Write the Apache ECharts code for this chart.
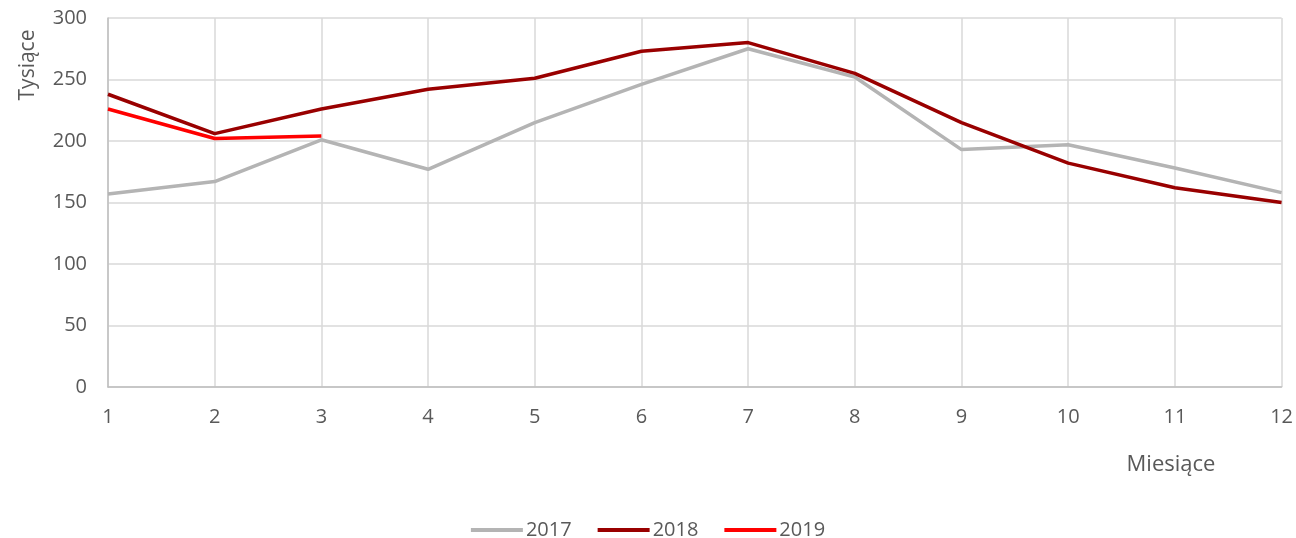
<!DOCTYPE html>
<html>
<head>
<meta charset="utf-8">
<script src="https://cdn.jsdelivr.net/npm/echarts@6/dist/echarts.min.js"></script>
<style>
html, body { margin: 0; padding: 0; background: #fff; }
#chart { width: 1296px; height: 538px; }
</style>
</head>
<body>
<div id="chart"></div>
<script>
// dane (tysiące)
var months = ['1', '2', '3', '4', '5', '6', '7', '8', '9', '10', '11', '12']
var y2017 = [157, 167, 201, 177, 215, 246, 275, 252, 193, 197, 178, 158]
var y2018 = [238, 206, 226, 242, 251, 273, 280, 255, 215, 182, 162, 150]
var y2019 = [226, 202, 204]

var font = '"Open Sans", "Noto Sans", sans-serif'
var txtColor = '#595959'

var chart = echarts.init(document.getElementById('chart'))
chart.setOption({
  animation: false,
  grid: { left: 108, right: 13, top: 18, bottom: 151 },
  legend: {
    top: 515,
    left: 'center',
    icon: 'rect',
    itemWidth: 52,
    itemHeight: 4,
    itemGap: 26,
    textStyle: { fontFamily: font, fontSize: 20, color: txtColor, padding: [0, 0, 0, -2] },
    data: ['2017', '2018', '2019']
  },
  xAxis: {
    type: 'category',
    boundaryGap: false,
    data: months,
    axisLine: { lineStyle: { color: '#bfbfbf', width: 1.5 } },
    axisTick: { show: false },
    axisLabel: { fontFamily: font, fontSize: 20, color: txtColor, margin: 20 },
    splitLine: { show: true, lineStyle: { color: '#d9d9d9', width: 1.5 } }
  },
  yAxis: {
    type: 'value',
    min: 0,
    max: 300,
    interval: 50,
    axisLine: { show: true, lineStyle: { color: '#bfbfbf', width: 1.5 } },
    axisTick: { show: false },
    axisLabel: { fontFamily: font, fontSize: 20, color: txtColor, margin: 21 },
    splitLine: { lineStyle: { color: '#d9d9d9', width: 1.5 } }
  },
  graphic: [
    {
      type: 'text',
      x: 28, y: 65,
      rotation: Math.PI / 2,
      style: { text: 'Tysiące', fontFamily: font, fontSize: 21, fill: txtColor, align: 'center', verticalAlign: 'middle' }
    },
    {
      type: 'text',
      x: 1171, y: 465,
      style: { text: 'Miesiące', fontFamily: font, fontSize: 22, fill: txtColor, align: 'center', verticalAlign: 'middle' }
    }
  ],
  series: [
    { name: '2017', type: 'line', data: y2017, showSymbol: false, color: '#b4b4b4', lineStyle: { width: 3.5, color: '#b4b4b4' } },
    { name: '2018', type: 'line', data: y2018, showSymbol: false, color: '#990000', lineStyle: { width: 3.5, color: '#990000' } },
    { name: '2019', type: 'line', data: y2019, showSymbol: false, color: '#ff0000', lineStyle: { width: 3.5, color: '#ff0000' } }
  ]
})
</script>
</body>
</html>
